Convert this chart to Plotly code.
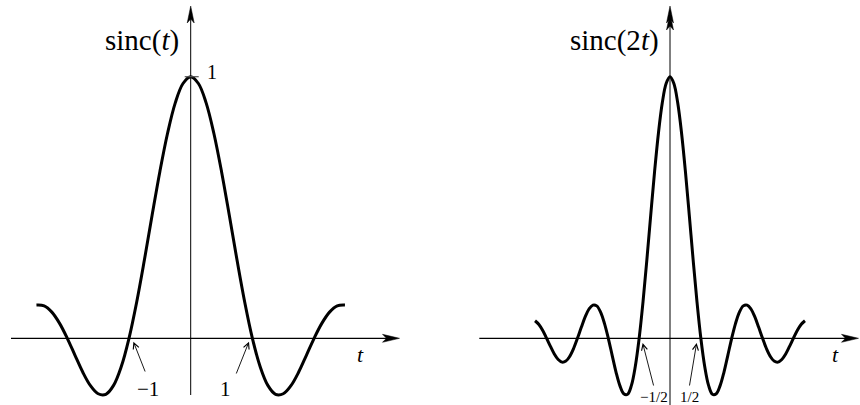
import plotly.graph_objects as go

# sinc(t) sampled every 1/8 on [-2.5, 2.5]
t_left = [k / 8 for k in range(-20, 21)]
sinc_t = [0.127, 0.124, 0.100, 0.057, 0.000, -0.065, -0.129, -0.181, -0.212, -0.214,
          -0.180, -0.108, 0.000, 0.139, 0.300, 0.471, 0.637, 0.784, 0.900, 0.974,
          1.000,
          0.974, 0.900, 0.784, 0.637, 0.471, 0.300, 0.139, 0.000, -0.108, -0.180,
          -0.214, -0.212, -0.181, -0.129, -0.065, 0.000, 0.057, 0.100, 0.124, 0.127]

# sinc(2t) sampled every 1/16 on [-2.1875, 2.1875]
t_right = [k / 16 for k in range(-35, 36)]
sinc_2t = [0.067, 0.053, 0.030, 0.000, -0.031, -0.060, -0.081, -0.091, -0.087, -0.069,
           -0.039, 0.000, 0.042, 0.082, 0.112, 0.127, 0.124, 0.100, 0.057, 0.000,
           -0.065, -0.129, -0.181, -0.212, -0.214, -0.180, -0.108, 0.000, 0.139, 0.300,
           0.471, 0.637, 0.784, 0.900, 0.974,
           1.000,
           0.974, 0.900, 0.784, 0.637, 0.471, 0.300, 0.139, 0.000, -0.108, -0.180,
           -0.214, -0.212, -0.181, -0.129, -0.065, 0.000, 0.057, 0.100, 0.124, 0.127,
           0.112, 0.082, 0.042, 0.000, -0.039, -0.069, -0.087, -0.091, -0.081, -0.060,
           -0.031, 0.000, 0.030, 0.053, 0.067]

left_title = "sinc(<i>t</i>)"
right_title = "sinc(2<i>t</i>)"
left_zero_labels = ["\u22121", "1"]
right_zero_labels = ["\u22121/2", "1/2"]
left_zeros = [-1, 1]
right_zeros = [-0.5, 0.5]

# page geometry (pixels)
W, H = 860, 405
UX, UY = 61.7, 261.6          # pixels per unit on t and on the value axis
CX_L, CX_R, CY = 190.7, 670.0, 338.3
SERIF = "Liberation Serif"

fig = go.Figure()
fig.add_trace(go.Scatter(x=t_left, y=sinc_t, mode="lines", xaxis="x", yaxis="y",
                         line=dict(color="black", width=3, shape="spline", smoothing=1.0),
                         hoverinfo="skip", showlegend=False))
fig.add_trace(go.Scatter(x=t_right, y=sinc_2t, mode="lines", xaxis="x2", yaxis="y2",
                         line=dict(color="black", width=3, shape="spline", smoothing=1.0),
                         hoverinfo="skip", showlegend=False))

yrange = [-(H - CY) / UY, CY / UY]
hidden = dict(visible=False, showgrid=False, zeroline=False, fixedrange=True)
fig.update_layout(
    width=W, height=H,
    margin=dict(l=0, r=0, t=0, b=0),
    paper_bgcolor="white", plot_bgcolor="white",
    xaxis=dict(domain=[0, 0.5], range=[-CX_L / UX, (W / 2 - CX_L) / UX], **hidden),
    xaxis2=dict(domain=[0.5, 1], range=[(W / 2 - CX_R) / UX, (W - CX_R) / UX], **hidden),
    yaxis=dict(domain=[0, 1], range=yrange, anchor="x", **hidden),
    yaxis2=dict(domain=[0, 1], range=yrange, anchor="x2", **hidden),
)

shapes = []
annotations = []


def up_head(xr, yr, vt):
    shapes.append(dict(type="path", xref=xr, yref=yr, xsizemode="pixel", ysizemode="pixel",
                       xanchor=0, yanchor=0,
                       path=f"M0,{vt} L-3.5,{vt - 17} L0,{vt - 13} L3.5,{vt - 17} Z",
                       fillcolor="black", line=dict(color="black", width=0.5)))


def axes_with_arrows(xr, yr, cx, x_start, x_tip, y_bottom, y_tip):
    """Coordinate axes through the origin, drawn in pixel offsets from (0, 0)."""
    # horizontal axis
    shapes.append(dict(type="line", xref=xr, yref=yr, xsizemode="pixel", xanchor=0,
                       x0=x_start - cx, x1=x_tip - cx - 8, y0=0, y1=0,
                       line=dict(color="black", width=1.2)))
    tip = x_tip - cx
    shapes.append(dict(type="path", xref=xr, yref=yr, xsizemode="pixel", ysizemode="pixel",
                       xanchor=0, yanchor=0,
                       path=f"M{tip},0 L{tip - 17},4 L{tip - 13},0 L{tip - 17},-4 Z",
                       fillcolor="black", line=dict(color="black", width=0.5)))
    # vertical axis
    shapes.append(dict(type="line", xref=xr, yref=yr, ysizemode="pixel", yanchor=0,
                       x0=0, x1=0, y0=CY - y_bottom, y1=CY - y_tip - 8,
                       line=dict(color="black", width=1)))
    up_head(xr, yr, CY - y_tip)


def text_at(xr, yr, cx, px, py, text, size, xanchor="center"):
    annotations.append(dict(xref=xr, yref=yr, x=(px - cx) / UX, y=(CY - py) / UY,
                            text=text, showarrow=False, xanchor=xanchor, yanchor="middle",
                            font=dict(family=SERIF, size=size, color="black")))


def pointer(xr, yr, zero, dx, dy, tail_dx, tail_dy):
    annotations.append(dict(xref=xr, yref=yr, x=zero, y=0, text="", showarrow=True,
                            arrowhead=5, arrowsize=1.3, arrowwidth=0.9, arrowcolor="black",
                            ax=tail_dx, ay=tail_dy, xshift=dx, yshift=dy))


# left panel
axes_with_arrows("x", "y", CX_L, 11, 399.5, 395, 6)
shapes.append(dict(type="line", xref="x", yref="y", xsizemode="pixel", xanchor=0,
                   x0=-6, x1=8, y0=1, y1=1, line=dict(color="#555555", width=1.2)))
text_at("x", "y", CX_L, 142, 40, left_title, 29)
text_at("x", "y", CX_L, 205, 72, "1", 20, xanchor="left")
text_at("x", "y", CX_L, 360, 354, "<i>t</i>", 22)
text_at("x", "y", CX_L, 147.5, 389, left_zero_labels[0], 21)
text_at("x", "y", CX_L, 225, 389, left_zero_labels[1], 21)
pointer("x", "y", left_zeros[0], 4.4, -3.4, 12.3, 31.3)
pointer("x", "y", left_zeros[1], -3.4, -3.4, -13.3, 33.3)

# right panel (its vertical axis carries a doubled arrowhead)
axes_with_arrows("x2", "y2", CX_R, 479.3, 858.5, 405, 6)
up_head("x2", "y2", CY - 13)
text_at("x2", "y2", CX_R, 614, 40, right_title, 29)
text_at("x2", "y2", CX_R, 835, 354, "<i>t</i>", 22)
text_at("x2", "y2", CX_R, 654, 397, right_zero_labels[0], 15)
text_at("x2", "y2", CX_R, 689, 397, right_zero_labels[1], 15)
pointer("x2", "y2", right_zeros[0], 3.5, -4.7, 11.3, 44)
pointer("x2", "y2", right_zeros[1], -4.2, -4.7, -7.4, 44)

fig.update_layout(shapes=shapes, annotations=annotations)
fig.write_html("out.html")
